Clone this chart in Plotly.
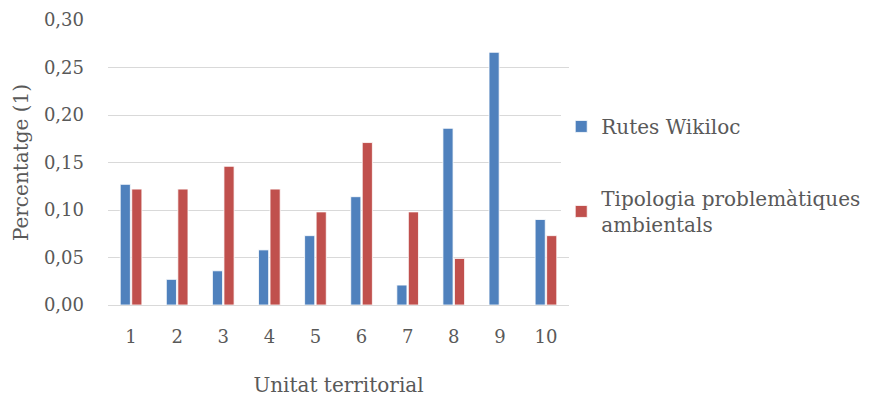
import plotly.graph_objects as go

categories = ["1", "2", "3", "4", "5", "6", "7", "8", "9", "10"]
rutes_wikiloc = [0.127, 0.027, 0.036, 0.058, 0.073, 0.114, 0.021, 0.186, 0.266, 0.090]
tipologia = [0.122, 0.122, 0.146, 0.122, 0.098, 0.171, 0.098, 0.049, 0.0, 0.073]
y_ticks = [0.0, 0.05, 0.10, 0.15, 0.20, 0.25, 0.30]

FONT = "DejaVu Serif"
TXT = "#595959"

fig = go.Figure()
fig.add_trace(go.Bar(x=categories, y=rutes_wikiloc, name="Rutes Wikiloc",
                     marker=dict(color="#4F81BD", line=dict(color="#FFFFFF", width=0.8)),
                     legendgroup="a"))
fig.add_trace(go.Bar(x=categories, y=tipologia, name="Tipologia problemàtiques<br>ambientals",
                     marker=dict(color="#C0504D", line=dict(color="#FFFFFF", width=0.8)),
                     legendgroup="b"))

fig.update_layout(
    width=869, height=398,
    margin=dict(l=100, r=307, t=12, b=101),
    paper_bgcolor="white", plot_bgcolor="white",
    separators=",.",
    barmode="group", bargap=0.5, bargroupgap=0.12,
    font=dict(family=FONT, size=20, color=TXT),
    legend=dict(x=0.981, xanchor="left", y=0.695, yanchor="top",
                tracegroupgap=43, font=dict(family=FONT, size=20, color=TXT),
                itemwidth=30),
    xaxis=dict(showline=True, linecolor="#D9D9D9", linewidth=1.3, automargin=False,
               ticks="", ticklabelstandoff=15, tickfont=dict(size=18),
               title=dict(text="Unitat territorial", standoff=32, font=dict(size=20))),
    yaxis=dict(range=[0, 0.30], tickvals=y_ticks, tickformat=".2f", automargin=False,
               showgrid=True, gridcolor="#D9D9D9", gridwidth=1.3,
               zeroline=False, showline=False, ticks="", ticklabelstandoff=23,
               tickfont=dict(size=18),
               title=dict(text="Percentatge (1)", standoff=9, font=dict(size=20))),
)

fig.write_html("out.html")
